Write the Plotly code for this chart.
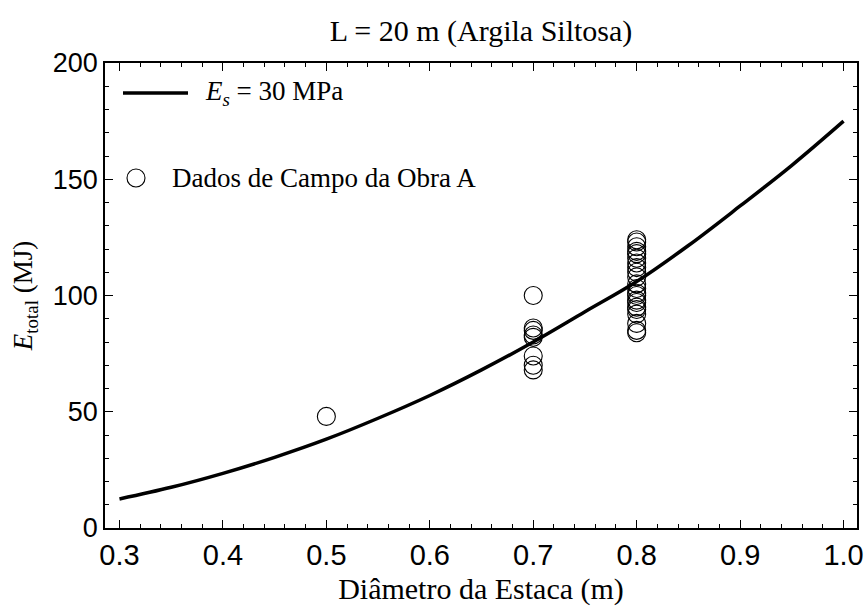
import plotly.graph_objects as go

# Model curve E_total(D) for Es = 30 MPa, sampled along the pile diameter
curve_d = [0.30, 0.35, 0.40, 0.45, 0.50, 0.55, 0.60, 0.65, 0.70, 0.75, 0.80, 0.85, 0.90, 0.95, 1.00]
curve_e = [12.5, 17.5, 23.5, 30.4, 38.2, 47.2, 57.0, 68.0, 80.0, 93.0, 106.0, 121.5, 138.5, 156.0, 175.0]

# Field data (site A)
field_d = [0.5,
           0.7, 0.7, 0.7, 0.7, 0.7, 0.7, 0.7, 0.7,
           0.8, 0.8, 0.8, 0.8, 0.8, 0.8, 0.8, 0.8, 0.8, 0.8, 0.8,
           0.8, 0.8, 0.8, 0.8, 0.8, 0.8, 0.8, 0.8, 0.8, 0.8, 0.8]
field_e = [48,
           100, 86, 85, 83, 82, 74, 70, 68,
           124, 123, 121, 119, 118, 116, 114, 112, 110, 108, 105,
           103, 101, 100, 98, 97, 95, 94, 92, 88, 85, 84]

x_ticks = [0.3, 0.4, 0.5, 0.6, 0.7, 0.8, 0.9, 1.0]
x_ticklabels = ["0.3", "0.4", "0.5", "0.6", "0.7", "0.8", "0.9", "1.0"]
y_ticks = [0, 50, 100, 150, 200]

title_text = "L = 20 m (Argila Siltosa)"
x_title = "Diâmetro da Estaca (m)"
y_title = "<i>E</i><sub>total</sub> (MJ)"
legend_curve = "<i>E<sub>s</sub></i> = 30 MPa"
legend_field = "Dados de Campo da Obra A"

serif = "Liberation Serif, Times New Roman, serif"
sans = "Liberation Sans, Arial, sans-serif"

fig = go.Figure()
fig.add_trace(go.Scatter(
    x=curve_d, y=curve_e, mode="lines",
    line=dict(color="black", width=3.5, shape="spline"),
    showlegend=False, hoverinfo="skip",
))
fig.add_trace(go.Scatter(
    x=field_d, y=field_e, mode="markers",
    marker=dict(symbol="circle-open", size=18, color="black", line=dict(width=1.1)),
    showlegend=False,
))

# Legend drawn inside the frame, top-left
fig.add_shape(type="line", xref="paper", yref="paper",
              x0=(123 - 105) / 752, x1=(188 - 105) / 752,
              y0=(528 - 93) / 465, y1=(528 - 93) / 465,
              line=dict(color="black", width=3.5))
fig.add_shape(type="circle", xref="paper", yref="paper",
              x0=(136 - 9 - 105) / 752, x1=(136 + 9 - 105) / 752,
              y0=(528 - 178 - 9) / 465, y1=(528 - 178 + 9) / 465,
              line=dict(color="black", width=1.1))
fig.add_annotation(xref="paper", yref="paper", x=(203 - 105) / 752, y=(528 - 93) / 465,
                   text=legend_curve, showarrow=False, xanchor="left", yanchor="middle",
                   font=dict(family=serif, size=27, color="black"))
fig.add_annotation(xref="paper", yref="paper", x=(170 - 105) / 752, y=(528 - 178) / 465,
                   text=legend_field, showarrow=False, xanchor="left", yanchor="middle",
                   font=dict(family=serif, size=27, color="black"))

axis_common = dict(
    showline=True, linecolor="black", linewidth=1.5, mirror="ticks",
    ticks="inside", ticklen=8, tickwidth=1.2, tickcolor="black",
    showgrid=False, zeroline=False, automargin=False,
)

fig.update_layout(
    width=865, height=607,
    paper_bgcolor="white", plot_bgcolor="white",
    margin=dict(l=105, r=8, t=63, b=79, autoexpand=False),
    title=dict(text=title_text, x=0.5, xref="paper", xanchor="center",
               y=1 - 30 / 607, yanchor="middle",
               font=dict(family=serif, size=30, color="black")),
    xaxis=dict(
        range=[0.286, 1.013], tickvals=x_ticks, ticktext=x_ticklabels,
        tickfont=dict(family=sans, size=29, color="black"),
        minor=dict(ticks="inside", dtick=0.02, tick0=0.3, ticklen=4, tickcolor="black", tickwidth=1),
        title=dict(text=x_title, font=dict(family=serif, size=30, color="black"), standoff=8),
        **axis_common,
    ),
    yaxis=dict(
        range=[0, 200], tickvals=y_ticks,
        tickfont=dict(family=sans, size=27, color="black"),
        minor=dict(ticks="inside", dtick=10, tick0=0, ticklen=4, tickcolor="black", tickwidth=1),
        title=dict(text=y_title, font=dict(family=serif, size=27, color="black"), standoff=12),
        **axis_common,
    ),
)

fig.write_html("out.html")
